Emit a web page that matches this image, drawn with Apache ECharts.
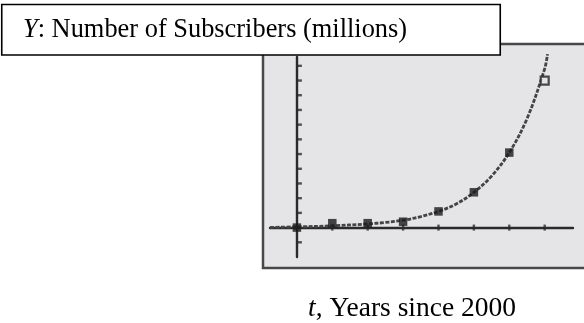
<!DOCTYPE html>
<html>
<head>
<meta charset="utf-8">
<script src="https://cdn.jsdelivr.net/npm/echarts@6/dist/echarts.min.js"></script>
<style>
  html, body { margin: 0; padding: 0; background: #ffffff; }
  #chart { width: 584px; height: 323px; }
</style>
</head>
<body>
<div id="chart"></div>
<script>
// Years since 2000 and subscribers (millions) for each plotted year
const years = [0, 1, 2, 3, 4, 5, 6, 7];
const subscribers = [0, 0.3, 0.3, 0.4, 1.1, 2.4, 5.1, 10.0];

// Fitted growth curve traced across the window
const curveT = [-0.76, 0, 1, 2, 2.5, 3, 3.5, 4, 4.5, 5, 5.5, 6, 6.5, 7, 7.08];
const curveY = [0.01, 0.05, 0.12, 0.25, 0.35, 0.5, 0.75, 1.1, 1.6, 2.4, 3.5, 5.1, 7.4, 10.8, 11.8];

// Tick marks along each axis (scale 1)
const xTicks = [1, 2, 3, 4, 5, 6, 7];
const yTicks = [-1, 1, 2, 3, 4, 5, 6, 7, 8, 9, 10, 11];

const titleText = 'Number of Subscribers (millions)';
const xLabelText = 'Years since 2000';

const screenBg = '#e5e5e7';
const ink = '#2a2a2a';

const chart = echarts.init(document.getElementById('chart'), null, { renderer: 'canvas' });

const lastIdx = years.length - 1;
const filledPts = years.slice(0, lastIdx).map((t, i) => [t, subscribers[i]]);
const openPts = [[years[lastIdx], subscribers[lastIdx]]];

chart.setOption({
  animation: false,
  backgroundColor: '#ffffff',
  grid: { left: 270, right: 11, top: 57, bottom: 66, containLabel: false },
  xAxis: {
    type: 'value', min: -0.76, max: 7.8,
    axisLine: { show: true, onZero: true, lineStyle: { color: ink, width: 2.4 } },
    axisTick: { show: false }, axisLabel: { show: false }, splitLine: { show: false }
  },
  yAxis: {
    type: 'value', min: -2, max: 11.6,
    axisLine: { show: true, onZero: true, lineStyle: { color: ink, width: 2.4 } },
    axisTick: { show: false }, axisLabel: { show: false }, splitLine: { show: false }
  },
  graphic: [
    {
      type: 'rect', z: -5, silent: true,
      shape: { x: 263, y: 44, width: 340, height: 224 },
      style: { fill: screenBg, stroke: '#484848', lineWidth: 2.5 }
    },
    {
      type: 'rect', z: 100, silent: true,
      shape: { x: 1.75, y: 4.5, width: 498.5, height: 50.5 },
      style: { fill: '#ffffff', stroke: '#000000', lineWidth: 1.6 }
    },
    {
      type: 'text', z: 101, silent: true,
      x: 23, y: 30,
      style: {
        text: '{i|Y}: ' + titleText,
        font: '26.4px "Liberation Serif", "Times New Roman", serif',
        fill: '#000000',
        verticalAlign: 'middle',
        rich: { i: { fontStyle: 'italic', fontFamily: '"Liberation Serif", serif', fontSize: 26.4, fill: '#000000' } }
      }
    },
    {
      type: 'text', z: 101, silent: true,
      x: 412, y: 309,
      style: {
        text: '{i|t}, ' + xLabelText,
        font: '27.5px "Liberation Serif", "Times New Roman", serif',
        fill: '#000000',
        align: 'center',
        verticalAlign: 'middle',
        rich: { i: { fontStyle: 'italic', fontFamily: '"Liberation Serif", serif', fontSize: 27.5, fill: '#000000' } }
      }
    }
  ],
  series: [
    {
      type: 'scatter', name: 'xticks', silent: true, z: 3,
      symbol: 'rect', symbolSize: [2.4, 6],
      itemStyle: { color: ink },
      data: xTicks.map(t => [t, 0])
    },
    {
      type: 'scatter', name: 'yticks', silent: true, z: 3,
      symbol: 'rect', symbolSize: [5, 2.4], symbolOffset: [2.5, 0],
      itemStyle: { color: ink },
      data: yTicks.map(v => [0, v])
    },
    {
      type: 'line', name: 'fit', silent: true, z: 4,
      smooth: 0.35, showSymbol: false, clip: false,
      lineStyle: { color: '#444444', width: 2.8, type: [4, 1.5] },
      data: curveT.map((t, i) => [t, curveY[i]])
    },
    {
      type: 'scatter', name: 'data', silent: true, z: 5,
      symbol: 'rect', symbolSize: 8.5,
      itemStyle: { color: '#1a1a1a' },
      data: filledPts
    },
    {
      type: 'scatter', name: 'latest', silent: true, z: 5,
      symbol: 'rect', symbolSize: 8,
      itemStyle: { color: screenBg, borderColor: '#222222', borderWidth: 2.2 },
      data: openPts
    }
  ]
});
</script>
</body>
</html>
